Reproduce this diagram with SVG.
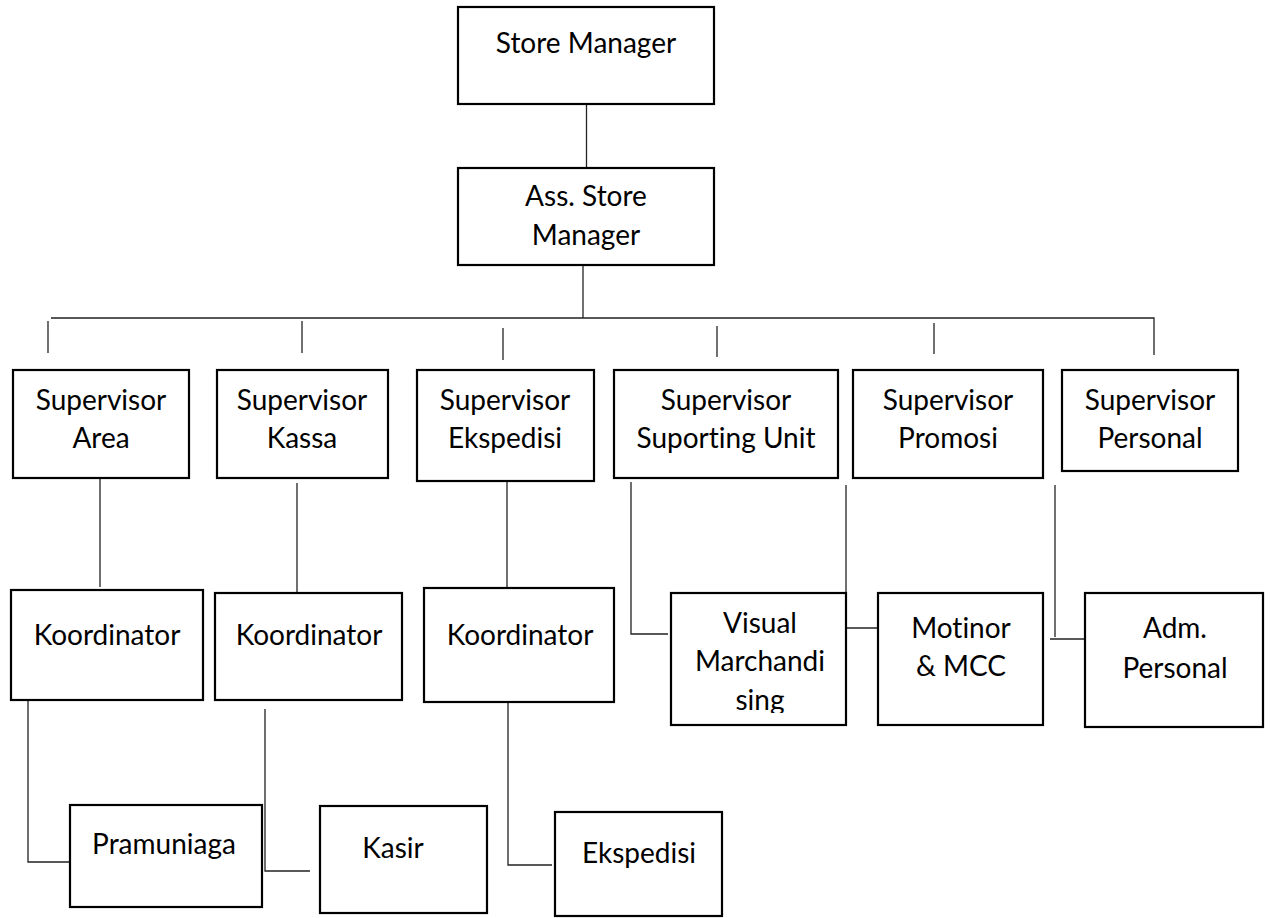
<svg xmlns="http://www.w3.org/2000/svg" width="1270" height="918" viewBox="0 0 1270 918">
<style>
.box{fill:#fff;stroke:#000;stroke-width:2.2}
.t{font-family:Lato,"Liberation Sans",sans-serif;font-size:28px;fill:#000;text-anchor:middle;font-variant-ligatures:none;font-feature-settings:"liga" 0,"dlig" 0}
.c{fill:none;stroke:#222;stroke-width:1.3}
</style>
<defs>
<clipPath id="clipVM"><rect x="671" y="593" width="175" height="120"/></clipPath>
</defs>
<rect width="1270" height="918" fill="#fff"/>
<g id="connectors">
<path class="c" d="M586.5 104V168"/>
<path class="c" d="M583 265V318"/>
<path class="c" d="M51 318H1154V355"/>
<path class="c" d="M48 321V353"/>
<path class="c" d="M302 321V353"/>
<path class="c" d="M503 328V360"/>
<path class="c" d="M717 326V357"/>
<path class="c" d="M934 323V354"/>
<path class="c" d="M100 478V587"/>
<path class="c" d="M297 483V592"/>
<path class="c" d="M507 481V590"/>
<path class="c" d="M631 482V634H668"/>
<path class="c" d="M846 485V593"/>
<path class="c" d="M846 628H881"/>
<path class="c" d="M1055 485V637"/>
<path class="c" d="M1050 639H1085"/>
<path class="c" d="M28 700V862H70"/>
<path class="c" d="M265 709V871H310"/>
<path class="c" d="M508 702V865H552"/>
</g>
<g id="store-manager"><rect class="box" x="458" y="7" width="256" height="97"/><text class="t" x="586" y="53">Store Manager</text></g>
<g id="ass-store-manager"><rect class="box" x="458" y="168" width="256" height="97"/><text class="t" x="586" y="206">Ass. Store</text><text class="t" x="586" y="245">Manager</text></g>
<g id="sup-area"><rect class="box" x="13" y="370" width="176" height="108"/><text class="t" x="101" y="410">Supervisor</text><text class="t" x="101" y="448">Area</text></g>
<g id="sup-kassa"><rect class="box" x="217" y="370" width="171" height="108"/><text class="t" x="302" y="410">Supervisor</text><text class="t" x="302" y="448">Kassa</text></g>
<g id="sup-ekspedisi"><rect class="box" x="417" y="370" width="177" height="111"/><text class="t" x="505" y="410">Supervisor</text><text class="t" x="505" y="448">Ekspedisi</text></g>
<g id="sup-suporting"><rect class="box" x="614" y="370" width="224" height="108"/><text class="t" x="726" y="410">Supervisor</text><text class="t" x="726" y="448">Suporting Unit</text></g>
<g id="sup-promosi"><rect class="box" x="853" y="370" width="190" height="108"/><text class="t" x="948" y="410">Supervisor</text><text class="t" x="948" y="448">Promosi</text></g>
<g id="sup-personal"><rect class="box" x="1062" y="370" width="176" height="101"/><text class="t" x="1150" y="410">Supervisor</text><text class="t" x="1150" y="448">Personal</text></g>
<g id="koord-area"><rect class="box" x="11" y="590" width="192" height="110"/><text class="t" x="107" y="645">Koordinator</text></g>
<g id="koord-kassa"><rect class="box" x="215" y="593" width="187" height="107"/><text class="t" x="309" y="645">Koordinator</text></g>
<g id="koord-ekspedisi"><rect class="box" x="424" y="588" width="190" height="114"/><text class="t" x="520" y="645">Koordinator</text></g>
<g id="visual"><rect class="box" x="671" y="593" width="175" height="132"/><g clip-path="url(#clipVM)"><text class="t" x="760" y="633">Visual</text><text class="t" x="760" y="671">Marchandi</text><text class="t" x="760" y="710">sing</text></g></g>
<g id="motinor"><rect class="box" x="878" y="593" width="165" height="132"/><text class="t" x="961" y="638">Motinor</text><text class="t" x="961" y="676">&amp; MCC</text></g>
<g id="adm-personal"><rect class="box" x="1085" y="593" width="178" height="134"/><text class="t" x="1175" y="638">Adm.</text><text class="t" x="1175" y="678">Personal</text></g>
<g id="pramuniaga"><rect class="box" x="70" y="805" width="192" height="102"/><text class="t" x="164" y="854">Pramuniaga</text></g>
<g id="kasir"><rect class="box" x="320" y="806" width="167" height="107"/><text class="t" x="393" y="858">Kasir</text></g>
<g id="ekspedisi"><rect class="box" x="555" y="812" width="167" height="104"/><text class="t" x="639" y="863">Ekspedisi</text></g>
</svg>
